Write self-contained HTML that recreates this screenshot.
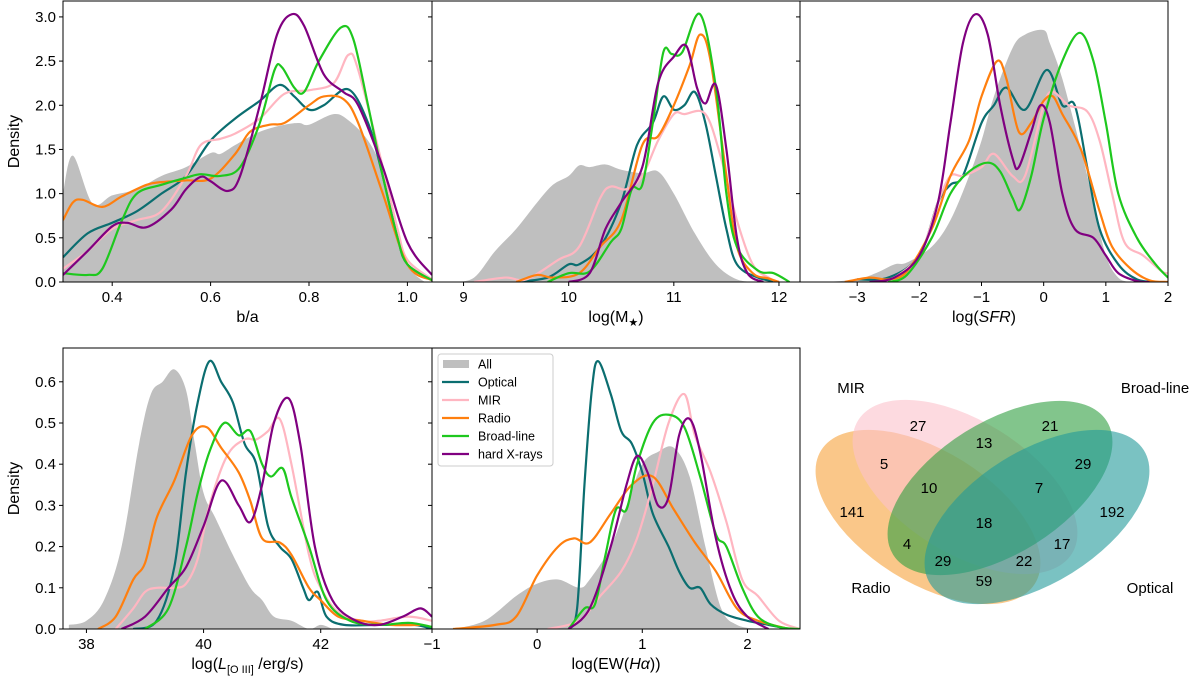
<!DOCTYPE html>
<html><head><meta charset="utf-8"><style>
body{margin:0;background:#fff;}
svg{display:block;font-family:"Liberation Sans","DejaVu Sans",sans-serif;}
</style></head><body>
<svg id="fig" width="1200" height="684" viewBox="0 0 1200 684" xmlns="http://www.w3.org/2000/svg"></svg>
<script>
// ---------- DATA ----------
const seriesNames = ["All","Optical","MIR","Radio","Broad-line","hard X-rays"];
// Panel 1: b/a
const baAll=[[0.3,1.0],[0.32,1.43],[0.36,0.89],[0.4,0.98],[0.45,1.05],[0.5,1.2],[0.55,1.3],[0.6,1.46],[0.62,1.45],[0.65,1.55],[0.7,1.7],[0.75,1.78],[0.78,1.8],[0.8,1.78],[0.85,1.9],[0.88,1.83],[0.92,1.6],[0.95,1.25],[0.98,0.6],[1.0,0.2],[1.03,0.02],[1.05,0]];
const baOpt=[[0.3,0.28],[0.35,0.55],[0.4,0.67],[0.45,0.8],[0.5,1.0],[0.55,1.2],[0.6,1.6],[0.65,1.85],[0.7,2.05],[0.74,2.23],[0.77,2.1],[0.8,1.95],[0.83,2.0],[0.88,2.18],[0.92,1.8],[0.95,1.2],[0.98,0.5],[1.0,0.2],[1.05,0.02]];
const baMir=[[0.3,0.15],[0.35,0.35],[0.4,0.6],[0.45,0.7],[0.5,0.8],[0.55,1.2],[0.58,1.55],[0.62,1.62],[0.65,1.68],[0.7,1.85],[0.75,2.13],[0.8,2.17],[0.85,2.25],[0.88,2.57],[0.9,2.4],[0.95,1.3],[0.98,0.6],[1.0,0.25],[1.05,0.03]];
const baRad=[[0.3,0.7],[0.32,0.9],[0.34,0.93],[0.38,0.85],[0.42,0.97],[0.47,1.1],[0.5,1.13],[0.55,1.15],[0.6,1.17],[0.65,1.45],[0.68,1.7],[0.72,1.78],[0.75,1.8],[0.8,2.0],[0.83,2.1],[0.87,2.07],[0.9,1.8],[0.95,1.0],[1.0,0.2],[1.05,0.02]];
const baBrd=[[0.3,0.1],[0.35,0.08],[0.38,0.15],[0.42,0.7],[0.45,1.0],[0.5,1.1],[0.55,1.18],[0.58,1.22],[0.62,1.2],[0.66,1.3],[0.7,1.8],[0.73,2.4],[0.745,2.43],[0.77,2.2],[0.79,2.15],[0.82,2.5],[0.865,2.88],[0.89,2.75],[0.92,2.0],[0.95,1.2],[0.98,0.5],[1.0,0.2],[1.05,0.02]];
const baHx=[[0.3,0.08],[0.35,0.35],[0.4,0.63],[0.43,0.67],[0.47,0.62],[0.52,0.82],[0.55,1.05],[0.58,1.19],[0.6,1.14],[0.635,1.03],[0.66,1.2],[0.7,2.0],[0.735,2.8],[0.765,3.03],[0.79,2.9],[0.83,2.35],[0.87,2.15],[0.9,2.0],[0.95,1.3],[1.0,0.45],[1.05,0.08]];
// Panel 2: log M*
const mAll=[[8.9,0],[9.1,0.05],[9.3,0.35],[9.5,0.6],[9.7,0.9],[9.85,1.1],[10.0,1.2],[10.1,1.32],[10.2,1.3],[10.35,1.33],[10.5,1.27],[10.7,1.23],[10.85,1.25],[11.0,1.0],[11.2,0.55],[11.4,0.2],[11.6,0.03],[11.8,0]];
const mOpt=[[9.5,0],[9.8,0.05],[10.0,0.2],[10.1,0.2],[10.3,0.4],[10.5,0.9],[10.65,1.55],[10.8,1.8],[10.9,2.1],[11.0,1.95],[11.1,2.0],[11.2,2.15],[11.3,1.8],[11.4,1.2],[11.5,0.6],[11.6,0.2],[11.8,0.05],[12,0]];
const mMir=[[9.1,0],[9.4,0.05],[9.6,0.03],[9.9,0.25],[10.1,0.4],[10.3,0.95],[10.4,1.08],[10.55,1.05],[10.7,1.2],[10.85,1.6],[11.0,1.9],[11.1,1.9],[11.3,1.9],[11.45,1.4],[11.6,0.7],[11.75,0.2],[11.9,0.05],[12,0]];
const mRad=[[9.5,0],[9.7,0.08],[9.85,0.05],[10.1,0.1],[10.3,0.4],[10.5,0.7],[10.7,1.55],[10.85,1.65],[11.0,2.0],[11.15,2.45],[11.25,2.8],[11.35,2.5],[11.5,1.2],[11.6,0.4],[11.75,0.1],[11.9,0.04],[12,0]];
const mBrd=[[9.8,0],[10.0,0.1],[10.2,0.12],[10.4,0.45],[10.5,0.6],[10.6,1.05],[10.7,1.1],[10.8,1.8],[10.9,2.6],[10.98,2.58],[11.08,2.6],[11.25,3.03],[11.4,2.2],[11.5,1.0],[11.6,0.4],[11.8,0.13],[11.95,0.1],[12.1,0]];
const mHx=[[10.0,0],[10.2,0.1],[10.35,0.6],[10.5,0.9],[10.7,1.3],[10.85,2.25],[11.0,2.55],[11.12,2.67],[11.22,2.2],[11.3,2.02],[11.4,2.23],[11.5,1.5],[11.6,0.5],[11.7,0.1],[11.85,0]];
// Panel 3: log SFR
const sAll=[[-3.5,0],[-3,0.03],[-2.7,0.1],[-2.4,0.2],[-2.2,0.22],[-1.8,0.4],[-1.5,0.7],[-1.2,1.2],[-1.0,1.6],[-0.8,2.1],[-0.5,2.65],[-0.3,2.8],[0,2.85],[0.1,2.7],[0.3,2.3],[0.6,1.5],[0.8,0.9],[1.0,0.3],[1.2,0.05],[1.4,0]];
const sOpt=[[-3,0.03],[-2.5,0.05],[-2,0.3],[-1.7,0.9],[-1.5,1.1],[-1.3,1.2],[-1.0,1.8],[-0.8,2.0],[-0.6,2.2],[-0.3,1.95],[0.05,2.4],[0.3,2.0],[0.5,2.0],[0.7,1.3],[0.9,0.6],[1.2,0.2],[1.5,0.03],[1.8,0]];
const sMir=[[-2.5,0],[-2,0.3],[-1.7,0.9],[-1.5,1.2],[-1.3,1.2],[-1.0,1.3],[-0.8,1.45],[-0.5,1.2],[-0.3,1.2],[0,2.0],[0.15,2.15],[0.4,2.0],[0.7,1.93],[0.9,1.6],[1.1,1.0],[1.3,0.45],[1.6,0.3],[1.9,0.12],[2,0.1]];
const sRad=[[-3.2,0],[-2.8,0.05],[-2.5,0.03],[-2.2,0.12],[-1.8,0.6],[-1.5,1.2],[-1.2,1.6],[-1.0,2.1],[-0.75,2.5],[-0.6,2.3],[-0.4,1.7],[-0.2,1.8],[0.0,2.05],[0.15,2.1],[0.3,1.9],[0.6,1.5],[0.9,0.8],[1.1,0.4],[1.4,0.15],[1.7,0.02],[2,0]];
const sBrd=[[-2.5,0],[-2.2,0.08],[-1.8,0.5],[-1.5,1.0],[-1.2,1.25],[-0.9,1.35],[-0.7,1.25],[-0.5,0.95],[-0.38,0.82],[-0.2,1.2],[0.0,1.85],[0.3,2.5],[0.58,2.82],[0.8,2.5],[1.0,1.8],[1.2,1.0],[1.5,0.5],[1.8,0.2],[2,0.05]];
const sHx=[[-2.8,0],[-2.4,0.05],[-2.0,0.3],[-1.7,0.9],[-1.5,1.8],[-1.3,2.7],[-1.1,3.03],[-0.9,2.8],[-0.7,2.0],[-0.5,1.4],[-0.4,1.3],[-0.2,1.7],[-0.05,2.0],[0.1,1.8],[0.3,1.0],[0.5,0.6],[0.8,0.5],[1.0,0.3],[1.2,0.1],[1.5,0.01],[1.7,0]];
// Panel 4: log L[OIII]
const lAll=[[37.7,0.01],[38,0.02],[38.3,0.07],[38.6,0.2],[38.9,0.45],[39.1,0.57],[39.3,0.6],[39.5,0.63],[39.7,0.58],[39.85,0.45],[40.0,0.33],[40.2,0.27],[40.5,0.18],[40.8,0.1],[41.0,0.07],[41.2,0.03],[41.5,0.02],[41.8,0.0],[42,0.01],[42.2,0]];
const lOpt=[[38.8,0],[39.2,0.02],[39.5,0.15],[39.7,0.38],[39.9,0.55],[40.1,0.65],[40.3,0.6],[40.5,0.55],[40.7,0.45],[40.9,0.4],[41.1,0.25],[41.3,0.2],[41.5,0.17],[41.7,0.1],[41.8,0.07],[41.95,0.09],[42.1,0.03],[42.4,0.01],[43,0.01],[43.6,0.01],[43.9,0]];
const lMir=[[38.5,0],[38.8,0.05],[39,0.09],[39.2,0.1],[39.5,0.1],[39.7,0.11],[39.9,0.17],[40.1,0.3],[40.4,0.42],[40.7,0.46],[40.9,0.46],[41.1,0.48],[41.3,0.51],[41.5,0.4],[41.8,0.18],[42.0,0.1],[42.3,0.04],[42.7,0.02],[43,0.02],[43.5,0.03],[43.9,0.02]];
const lRad=[[38.2,0],[38.5,0.03],[38.8,0.12],[39,0.16],[39.2,0.27],[39.5,0.36],[39.8,0.47],[40.05,0.49],[40.3,0.44],[40.6,0.38],[40.8,0.31],[41.0,0.22],[41.3,0.21],[41.5,0.18],[41.8,0.1],[42.0,0.07],[42.3,0.03],[42.7,0.02],[43.2,0.01],[43.7,0.01]];
const lBrd=[[39.0,0],[39.4,0.05],[39.7,0.2],[39.9,0.33],[40.1,0.43],[40.35,0.5],[40.6,0.47],[40.8,0.48],[41.0,0.4],[41.15,0.37],[41.35,0.39],[41.5,0.32],[41.8,0.2],[42.1,0.07],[42.5,0.02],[43,0.01],[43.5,0.015],[43.9,0.005]];
const lHx=[[38.6,0],[39.0,0.03],[39.4,0.1],[39.7,0.15],[40.0,0.25],[40.3,0.36],[40.6,0.3],[40.8,0.26],[41.0,0.35],[41.2,0.5],[41.45,0.56],[41.65,0.45],[41.9,0.2],[42.2,0.07],[42.6,0.02],[43.0,0.01],[43.4,0.03],[43.7,0.05],[43.9,0.03]];
// Panel 5: log EW(Halpha)
const eAll=[[-0.8,0],[-0.5,0.02],[-0.2,0.08],[0,0.11],[0.2,0.12],[0.4,0.1],[0.5,0.12],[0.7,0.2],[0.85,0.3],[1.0,0.4],[1.15,0.43],[1.3,0.44],[1.45,0.37],[1.6,0.2],[1.75,0.05],[1.9,0.01],[2.1,0]];
const eOpt=[[0.3,0],[0.38,0.05],[0.45,0.35],[0.52,0.58],[0.58,0.65],[0.7,0.57],[0.8,0.48],[0.9,0.45],[1.0,0.38],[1.1,0.28],[1.25,0.2],[1.35,0.14],[1.45,0.1],[1.55,0.1],[1.65,0.06],[1.8,0.035],[2.0,0.02],[2.2,0.01],[2.4,0]];
const eMir=[[0.1,0],[0.4,0.02],[0.6,0.08],[0.8,0.14],[0.95,0.22],[1.1,0.35],[1.25,0.5],[1.4,0.57],[1.5,0.47],[1.65,0.38],[1.8,0.26],[1.95,0.12],[2.1,0.08],[2.3,0.02],[2.5,0]];
const eRad=[[-0.8,0],[-0.4,0.01],[-0.2,0.03],[0,0.13],[0.2,0.2],[0.35,0.22],[0.5,0.21],[0.7,0.28],[0.9,0.35],[1.1,0.37],[1.3,0.29],[1.5,0.21],[1.7,0.14],[1.9,0.05],[2.1,0.02],[2.4,0]];
const eBrd=[[0.3,0],[0.45,0.05],[0.55,0.06],[0.65,0.18],[0.75,0.29],[0.85,0.29],[0.95,0.4],[1.1,0.5],[1.25,0.52],[1.4,0.49],[1.55,0.37],[1.7,0.23],[1.8,0.2],[1.95,0.1],[2.1,0.03],[2.3,0.005],[2.5,0]];
const eHx=[[0.3,0],[0.5,0.05],[0.7,0.2],[0.85,0.35],[0.95,0.42],[1.05,0.38],[1.15,0.3],[1.25,0.32],[1.35,0.47],[1.45,0.51],[1.55,0.43],[1.7,0.22],[1.85,0.09],[2.0,0.03],[2.2,0]];
// tick labels
const baTicks=[0.4,0.6,0.8,1.0];
const mTicks=[9,10,11,12];
const sTicks=[-3,-2,-1,0,1,2];
const lTicks=[38,40,42];
const eTicks=[-1,0,1,2];
const topYTicks=[0,0.5,1.0,1.5,2.0,2.5,3.0];
const botYTicks=[0,0.1,0.2,0.3,0.4,0.5,0.6];
// Venn counts
const vennCounts=[27,21,13,5,29,10,7,141,192,18,4,17,29,22,59];

// ---------- DRAW ----------
const NS="http://www.w3.org/2000/svg";
const svg=document.getElementById('fig');
const colors=["#bfbfbf","#0b6e70","#ffb6c1","#ff7f0e","#1ec81e","#800080"];
function mk(tag,attrs,parent){const e=document.createElementNS(NS,tag);for(const k in attrs)e.setAttribute(k,attrs[k]);(parent||svg).appendChild(e);return e;}
function smooth(pts){let d="M"+pts[0][0].toFixed(2)+","+pts[0][1].toFixed(2);
 for(let i=0;i<pts.length-1;i++){const p0=pts[Math.max(i-1,0)],p1=pts[i],p2=pts[i+1],p3=pts[Math.min(i+2,pts.length-1)];
  const c1=[p1[0]+(p2[0]-p0[0])/6,p1[1]+(p2[1]-p0[1])/6],c2=[p2[0]-(p3[0]-p1[0])/6,p2[1]-(p3[1]-p1[1])/6];
  d+="C"+c1[0].toFixed(2)+","+c1[1].toFixed(2)+" "+c2[0].toFixed(2)+","+c2[1].toFixed(2)+" "+p2[0].toFixed(2)+","+p2[1].toFixed(2);}
 return d;}
function fmt(v,dec){return (v<0?"\u2212":"")+Math.abs(v).toFixed(dec);}
let clipId=0;
function panel(name,box,xr,yr,series,xt,xdec,yt,ydec,showY,xlabel){
 const [L,T,R,B]=box;
 const sx=v=>L+(v-xr[0])/(xr[1]-xr[0])*(R-L);
 const sy=v=>B-(v-yr[0])/(yr[1]-yr[0])*(B-T);
 const g=mk('g',{});
 
 
 const cid='c'+(clipId++);
 const cp=mk('clipPath',{id:cid},g);mk('rect',{x:L,y:T,width:R-L,height:B-T},cp);
 const plot=mk('g',{'clip-path':'url(#'+cid+')'},g);
 series.forEach((s,i)=>{
  const pts=s.map(p=>[sx(p[0]),sy(p[1])]);
  const d=smooth(pts);
  if(i===0){const f=mk('path',{d:d+"L"+pts[pts.length-1][0]+","+B+"L"+pts[0][0]+","+B+"Z",fill:colors[0],stroke:"none"},plot);
   
   }
  else{const l=mk('path',{d:d,fill:"none",stroke:colors[i],'stroke-width':2.2,'stroke-linejoin':'round'},plot);
   
   }
 });
 const fr=mk('rect',{x:L,y:T,width:R-L,height:B-T,fill:"none",stroke:"#000",'stroke-width':1},g);
 
 
 xt.forEach(v=>{const x=sx(v);mk('line',{x1:x,x2:x,y1:B,y2:B+4,stroke:"#000"},g);
  const t=mk('text',{x:x,y:B+20,'font-size':15,'text-anchor':'middle'},g);t.textContent=fmt(v,xdec);
  
  });
 yt.forEach(v=>{const y=sy(v);mk('line',{x1:L-4,x2:L,y1:y,y2:y,stroke:"#000"},g);
  if(showY){const t=mk('text',{x:L-7,y:y+5,'font-size':15,'text-anchor':'end'},g);t.textContent=fmt(v,ydec);
  
  }});
 const xl=mk('text',{x:(L+R)/2,y:B+40,'font-size':16,'text-anchor':'middle'},g);xl.innerHTML=xlabel;
 
 
 if(showY){const yl=mk('text',{x:0,y:0,'font-size':16,'text-anchor':'middle',transform:`translate(19,${(T+B)/2}) rotate(-90)`},g);yl.textContent="Density";
  
  }
}
panel('ba-panel',[63,1,432,282],[0.3,1.05],[0,3.18],[baAll,baOpt,baMir,baRad,baBrd,baHx],baTicks,1,topYTicks,1,true,'b/a');
panel('mass-panel',[432,1,800,282],[8.7,12.2],[0,3.18],[mAll,mOpt,mMir,mRad,mBrd,mHx],mTicks,0,topYTicks,1,false,'log(M<tspan font-size="11" dy="4">\u2605</tspan><tspan dy="-4">)</tspan>');
panel('sfr-panel',[800,1,1168,282],[-3.92,2],[0,3.18],[sAll,sOpt,sMir,sRad,sBrd,sHx],sTicks,0,topYTicks,1,false,'log(<tspan font-style="italic">SFR</tspan>)');
panel('oiii-panel',[63,348,432,629],[37.6,43.9],[0,0.682],[lAll,lOpt,lMir,lRad,lBrd,lHx],lTicks,0,botYTicks,1,true,'log(<tspan font-style="italic">L</tspan><tspan font-size="11" dy="4">[O III]</tspan><tspan dy="-4"> /erg/s)</tspan>');
panel('ew-panel',[432,348,800,629],[-1,2.5],[0,0.682],[eAll,eOpt,eMir,eRad,eBrd,eHx],eTicks,0,botYTicks,1,false,'log(EW(<tspan font-style="italic">H\u03b1</tspan>))');

// legend
const lg=mk('g',{});


mk('rect',{x:438,y:354,width:115,height:112,rx:3,fill:"#fff",'fill-opacity':0.8,stroke:"#ccc"},lg);
seriesNames.forEach((n,i)=>{const y=364+i*18;
 if(i===0){mk('rect',{x:443,y:y-4,width:26,height:8,fill:colors[0]},lg);}
 else mk('line',{x1:442,x2:469,y1:y,y2:y,stroke:colors[i],'stroke-width':2.2},lg);
 const t=mk('text',{x:478,y:y+4.5,'font-size':12.5},lg);t.textContent=n;
 
 });

// Venn
const vg=mk('g',{});


const ells=[["radio",928,517,32,"#f7a23a"],["mir",965,487,32,"#fbc2cc"],["broad",1000,488,-32,"#2f9e3f"],["optical",1037,517,-32,"#21999a"]];
ells.forEach(e=>{const el=mk('ellipse',{cx:0,cy:0,rx:126,ry:66,fill:e[4],'fill-opacity':0.6,transform:`translate(${e[1]},${e[2]}) rotate(${e[3]})`},vg);
 
 });
const vpos=[[918,425],[1050,425],[984,442],[884,463],[1083,463],[929,487],[1039,487],[852,511],[1112,511],[984,522],[907,543],[1062,543],[943,560],[1024,560],[984,580]];
vennCounts.forEach((c,i)=>{const t=mk('text',{x:vpos[i][0],y:vpos[i][1]+6,'font-size':15,'text-anchor':'middle'},vg);t.textContent=c;
 
 });
[["MIR",851,393],["Broad-line",1155,393],["Radio",871,593],["Optical",1150,593]].forEach(s=>{const t=mk('text',{x:s[1],y:s[2],'font-size':15,'text-anchor':'middle'},vg);t.textContent=s[0];
 
 });
</script>
</body></html>
